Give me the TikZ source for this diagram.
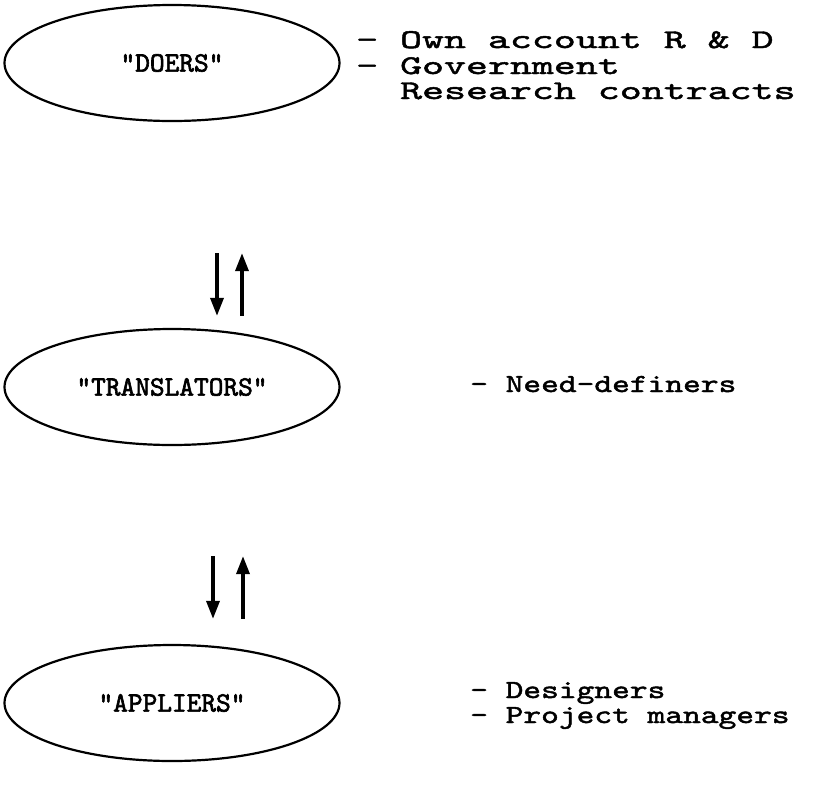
\documentclass[tikz,border=0pt]{standalone}
\usepackage{fontspec}
\usetikzlibrary{shapes.geometric, arrows.meta}
% typewriter faces at three widths
\newfontfamily\typer{lmmono10-regular}[Extension=.otf, FakeStretch=1.3, FakeBold=1.8]
\newfontfamily\typewide{lmmono10-regular}[Extension=.otf, FakeStretch=1.55, FakeBold=1.8]
\newfontfamily\typetall{lmmono10-regular}[Extension=.otf, FakeBold=2.2]

\tikzset{
    group/.style={ellipse, draw, line width=2.2pt, minimum width=335pt, minimum height=116pt, inner sep=0pt, font=\typetall\fontsize{28}{30}\selectfont},
    note/.style={anchor=base west, inner sep=0pt, font=\typer\fontsize{26}{30}\selectfont},
    widenote/.style={note, font=\typewide\fontsize{27}{30}\selectfont},
    flow/.style={line width=3.4pt, -{Triangle[length=18pt, width=13pt]}}
}

\begin{document}
\begin{tikzpicture}[x=1pt, y=-1pt]
    \useasboundingbox (0,0) rectangle (817,807);
    % the three groups
    \node[group] (doers) at (172,63) {"DOERS"};
    \node[group] (translators) at (172,387) {"TRANSLATORS"};
    \node[group] (appliers) at (172,703) {"APPLIERS"};

    % who they are
    \node[widenote] (own) at (356,48) {- Own account R \& D};
    \node[widenote] (gov) at (356,74) {- Government};
    \node[widenote] (res) at (356,99) {\phantom{- }Research contracts};
    \node[note] (need) at (470,392) {- Need-definers};
    \node[note] (design) at (470,698) {- Designers};
    \node[note] (project) at (470,723) {- Project managers};

    % two-way links
    \draw[flow] ([xshift=45pt, yshift=-131pt]doers.south) -- ([xshift=45pt, yshift=12pt]translators.north);
    \draw[flow] ([xshift=70pt, yshift=12pt]translators.north) -- ([xshift=70pt, yshift=-131pt]doers.south);
    \draw[flow] ([xshift=41pt, yshift=-110pt]translators.south) -- ([xshift=41pt, yshift=25pt]appliers.north);
    \draw[flow] ([xshift=71pt, yshift=25pt]appliers.north) -- ([xshift=71pt, yshift=-110pt]translators.south);
\end{tikzpicture}
\end{document}
